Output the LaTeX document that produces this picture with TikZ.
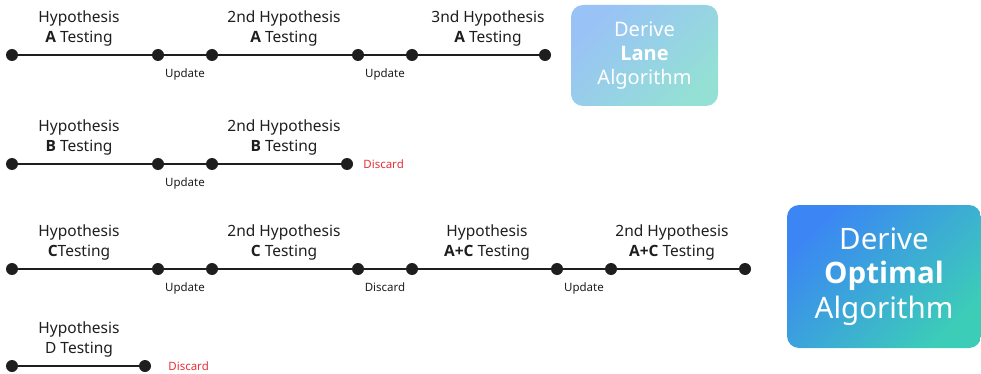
\documentclass[tikz,border=0pt]{standalone}
\usepackage{fontspec}
\setmainfont{Noto Sans}
\newfontfamily\opensans{Open Sans}
\newcommand\hb[1]{{\opensans\bfseries #1}}
\usetikzlibrary{positioning}
\definecolor{ink}{HTML}{1E1E1E}
\definecolor{discardred}{HTML}{E8303A}
\definecolor{laneblue}{HTML}{99C2F6}
\definecolor{laneteal}{HTML}{94E0D5}
\definecolor{optblue}{HTML}{3B86F4}
\definecolor{optteal}{HTML}{3CCDB8}

\begin{document}
\begin{tikzpicture}
          [x=1pt,y=-1pt,
          dot/.style={shape=circle,fill=ink,inner sep=0pt,minimum size=12pt},
          link/.style={draw=ink,line width=1.8pt},
          hyp/.style={align=center,inner sep=0pt,anchor=south,text=ink,font=\fontsize{15.5}{19.5}\selectfont},
          note/.style={below=12.5pt,inner sep=0pt,text=ink,font=\fontsize{11.5}{13}\selectfont},
          discard/.style={inner sep=0pt,anchor=west,text=discardred,font=\fontsize{11.5}{13}\selectfont},
          box/.style={rounded corners=12pt,inner sep=0pt,text=white,align=center},
          lanebox/.style={box,left color=laneblue,right color=laneteal,shading angle=45,
            minimum width=147pt,minimum height=101pt,font=\fontsize{20}{24}\selectfont},
          optbox/.style={box,left color=optblue,right color=optteal,shading angle=45,
            minimum width=194pt,minimum height=143pt,font=\fontsize{29.5}{34.5}\selectfont}]

          \useasboundingbox (0,0) rectangle (981,374);

            % A
            \node (a1) [dot] at (12,55) {};
            \node (a2) [dot] at (158,55) {};
            \node (a3) [dot] at (212,55) {};
            \node (a4) [dot] at (358,55) {};
            \node (a5) [dot] at (412,55) {};
            \node (a6) [dot] at (545,55) {};
            \node (la1) [hyp] at (79,46) {Hypothesis\\\hb{A} Testing};
            \node (la2) [hyp] at (284,46) {2nd Hypothesis\\\hb{A} Testing};
            \node (la3) [hyp] at (488,46) {3nd Hypothesis\\\hb{A} Testing};

            % B
            \node (b1) [dot] at (12,164) {};
            \node (b2) [dot] at (158,164) {};
            \node (b3) [dot] at (212,164) {};
            \node (b4) [dot] at (347,164) {};
            \node (lb1) [hyp] at (79,155) {Hypothesis\\\hb{B} Testing};
            \node (lb2) [hyp] at (284,155) {2nd Hypothesis\\\hb{B} Testing};
            \node (xb) [discard,right=10pt of b4] {Discard};

            % C
            \node (c1) [dot] at (12,269) {};
            \node (c2) [dot] at (158,269) {};
            \node (c3) [dot] at (212,269) {};
            \node (c4) [dot] at (358,269) {};
            \node (c5) [dot] at (412,269) {};
            \node (c6) [dot] at (557,269) {};
            \node (c7) [dot] at (611,269) {};
            \node (c8) [dot] at (745,269) {};
            \node (lc1) [hyp] at (79,260) {Hypothesis\\\hb{C}Testing};
            \node (lc2) [hyp] at (284,260) {2nd Hypothesis\\\hb{C} Testing};
            \node (lc3) [hyp] at (487,260) {Hypothesis\\\hb{A+C} Testing};
            \node (lc4) [hyp] at (672,260) {2nd Hypothesis\\\hb{A+C} Testing};

            % D
            \node (d1) [dot] at (12,366) {};
            \node (d2) [dot] at (145,366) {};
            \node (ld1) [hyp] at (79,357) {Hypothesis\\D Testing};
            \node (xd) [discard,right=17pt of d2] {Discard};

            \node (lane) [lanebox] at (644.5,55.5) {Derive\\\hb{Lane}\\Algorithm};
            \node (optimal) [optbox] at (884,276.5) {Derive\\\hb{Optimal}\\Algorithm};

            \draw [link] (a1) -- (a2);
            \draw [link] (a2) -- node [note] {Update} (a3);
            \draw [link] (a3) -- (a4);
            \draw [link] (a4) -- node [note] {Update} (a5);
            \draw [link] (a5) -- (a6);

            \draw [link] (b1) -- (b2);
            \draw [link] (b2) -- node [note] {Update} (b3);
            \draw [link] (b3) -- (b4);

            \draw [link] (c1) -- (c2);
            \draw [link] (c2) -- node [note] {Update} (c3);
            \draw [link] (c3) -- (c4);
            \draw [link] (c4) -- node [note] {Discard} (c5);
            \draw [link] (c5) -- (c6);
            \draw [link] (c6) -- node [note] {Update} (c7);
            \draw [link] (c7) -- (c8);

            \draw [link] (d1) -- (d2);

        \end{tikzpicture}
\end{document}
